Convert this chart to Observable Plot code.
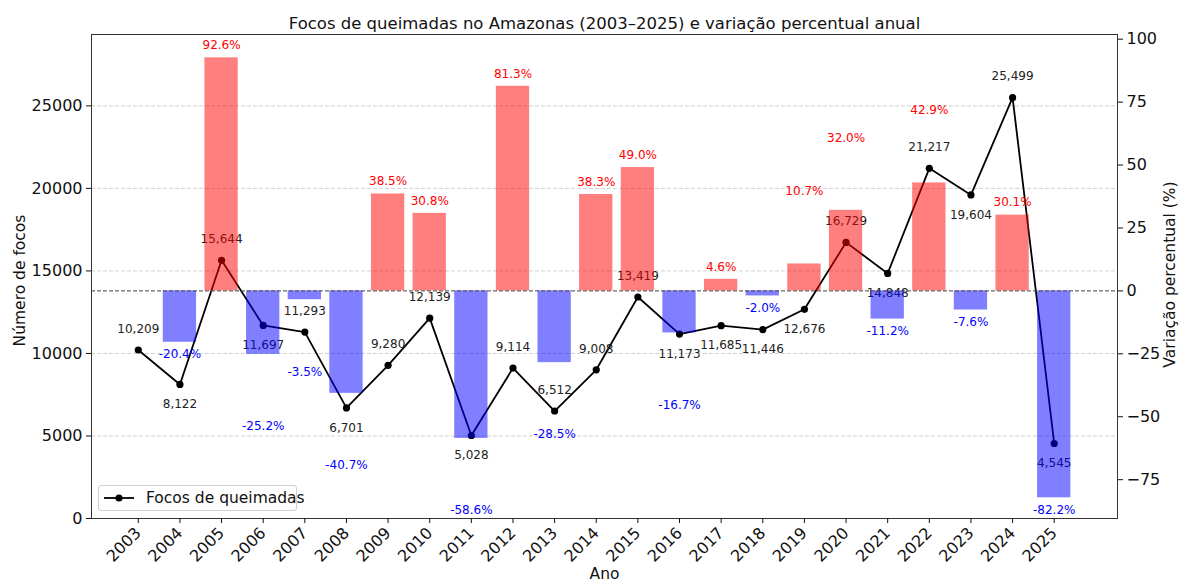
<!DOCTYPE html>
<html>
<head>
<meta charset="utf-8">
<script src="https://cdn.jsdelivr.net/npm/d3@7"></script>
<script src="https://cdn.jsdelivr.net/npm/@observablehq/plot@0.6"></script>
<style>
  html, body { margin: 0; padding: 0; background: white; }
  #wrap { position: relative; width: 1179px; height: 583px; font-family: "DejaVu Sans", sans-serif; }
  #legend { position: absolute; left: 98px; top: 485px; width: 199px; height: 26px;
    border: 1px solid #d0d0d0; border-radius: 3px; background: rgba(255,255,255,0.85);
    box-sizing: border-box; display: flex; align-items: center; font-size: 15.5px; color: #111; white-space: nowrap; }
  #legend svg { margin-left: 4px; margin-right: 11px; flex: none; }
</style>
</head>
<body>
<div id="wrap"><div id="chart"></div><div id="legend"></div></div>
<script>
const years = [2003, 2004, 2005, 2006, 2007, 2008, 2009, 2010, 2011, 2012, 2013, 2014, 2015, 2016, 2017, 2018, 2019, 2020, 2021, 2022, 2023, 2024, 2025];
const focos = [10209, 8122, 15644, 11697, 11293, 6701, 9280, 12139, 5028, 9114, 6512, 9008, 13419, 11173, 11685, 11446, 12676, 16729, 14848, 21217, 19604, 25499, 4545];
const variacao = [null, -20.4, 92.6, -25.2, -3.5, -40.7, 38.5, 30.8, -58.6, 81.3, -28.5, 38.3, 49.0, -16.7, 4.6, -2.0, 10.7, 32.0, -11.2, 42.9, -7.6, 30.1, -82.2];
// label placement flags
const countLabelBelow = [false, true, false, true, false, true, false, false, true, false, false, false, false, true, true, true, true, false, true, false, true, false, true];
const pctLabelPushed = [false, false, false, true, true, true, false, false, true, false, true, false, false, true, false, false, true, true, false, true, false, false, false];
const leftTicks = [0, 5000, 10000, 15000, 20000, 25000];
const rightTicks = [-75, -50, -25, 0, 25, 50, 75, 100];
const title = "Focos de queimadas no Amazonas (2003–2025) e variação percentual anual";
const legendLabel = "Focos de queimadas";

const ymax = d3.max(focos) * 1.15;
const pLo = d3.min(variacao.filter(v => v != null)) * 1.1;
const pHi = d3.max(variacao.filter(v => v != null)) * 1.1;
const toY = p => (p - pLo) / (pHi - pLo) * ymax;
const fromY = y => pLo + y / ymax * (pHi - pLo);

const data = years.map((year, i) => ({year, count: focos[i], pct: variacao[i], below: countLabelBelow[i], pushed: pctLabelPushed[i]}));
const bars = data.filter(d => d.pct != null);
const pctText = (filter, dy) => Plot.text(bars.filter(filter), {
  x: "year", y: d => toY(d.pct), text: d => d.pct.toFixed(1) + "%",
  fill: d => d.pct >= 0 ? "red" : "blue", fontSize: 12, dy});

const chart = Plot.plot({
  width: 1179, height: 583,
  marginLeft: 91, marginRight: 62, marginTop: 34, marginBottom: 65,
  style: {fontFamily: "DejaVu Sans", fontSize: "15.5px", color: "#111", background: "white"},
  x: {type: "linear", domain: [2001.876, 2026.52]},
  y: {domain: [0, ymax]},
  color: {type: "identity"},
  marks: [
    Plot.gridY(leftTicks.slice(1), {stroke: "#b0b0b0", strokeOpacity: 0.6, strokeDasharray: "4,2"}),
    Plot.line(data, {x: "year", y: "count", stroke: "black", strokeWidth: 1.8}),
    Plot.dot(data, {x: "year", y: "count", r: 3.6, fill: "black"}),
    Plot.text(data.filter(d => !d.below), {x: "year", y: "count", text: d => d3.format(",")(d.count), dy: -21, fontSize: 12, fill: "#222"}),
    Plot.text(data.filter(d => d.below), {x: "year", y: "count", text: d => d3.format(",")(d.count), dy: 20, fontSize: 12, fill: "#222"}),
    Plot.rect(bars, {x1: d => d.year - 0.4, x2: d => d.year + 0.4, y1: () => toY(0), y2: d => toY(d.pct), fill: d => d.pct >= 0 ? "red" : "blue", fillOpacity: 0.5}),
    Plot.ruleY([toY(0)], {stroke: "#444", strokeDasharray: "4,2", strokeWidth: 1}),
    pctText(d => d.pct >= 0 && !d.pushed, -12.5),
    pctText(d => d.pct >= 0 && d.pushed, -72.5),
    pctText(d => d.pct < 0 && !d.pushed, 12),
    pctText(d => d.pct < 0 && d.pushed, 72),
    Plot.frame({stroke: "#333"}),
    Plot.axisY(leftTicks, {anchor: "left", tickFormat: d => String(d), tickSize: 5, fontSize: 16, label: null}),
    Plot.axisY(rightTicks.map(toY), {anchor: "right", tickFormat: d => { const p = Math.round(fromY(d)); return p < 0 ? "−" + Math.abs(p) : String(p); }, tickSize: 5, fontSize: 16, label: null}),
    Plot.axisX(years, {anchor: "bottom", tickFormat: d => String(d), tickRotate: -45, tickSize: 5, fontSize: 16, label: null}),
    Plot.text([title], {frameAnchor: "top", lineAnchor: "middle", dy: -11, fontSize: 16.5, fill: "#111"}),
    Plot.text(["Número de focos"], {frameAnchor: "left", textAnchor: "middle", lineAnchor: "middle", dx: -71, dy: 4, rotate: -90, fontSize: 15.5, fill: "#111"}),
    Plot.text(["Variação percentual (%)"], {frameAnchor: "right", textAnchor: "middle", lineAnchor: "middle", dx: 53, dy: -2, rotate: -90, fontSize: 15.5, fill: "#111"}),
    Plot.text(["Ano"], {frameAnchor: "bottom", lineAnchor: "middle", dy: 56, fontSize: 15.5, fill: "#111"})
  ]
});
document.getElementById("chart").appendChild(chart);

document.getElementById("legend").innerHTML =
  `<svg width="32" height="12"><line x1="1" y1="6" x2="31" y2="6" stroke="black" stroke-width="1.8"/><circle cx="16" cy="6" r="3.6" fill="black"/></svg><span>${legendLabel}</span>`;
</script>
</body>
</html>
